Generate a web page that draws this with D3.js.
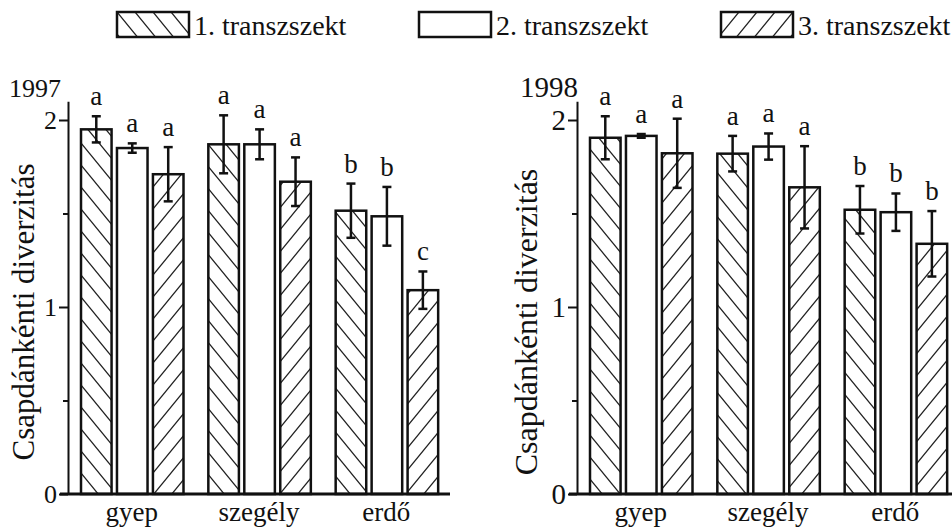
<!DOCTYPE html>
<html>
<head>
<meta charset="utf-8">
<script src="https://cdn.jsdelivr.net/npm/d3@7"></script>
<style>
  body { margin: 0; background: #fff; }
  text { font-family: "Liberation Serif", "Times New Roman", Times, serif; fill: #111; }
</style>
</head>
<body>
<svg id="chart" width="952" height="528"></svg>
<script>
// data
const groups = ["gyep", "szegély", "erdő"];
const series = ["1. transzszekt", "2. transzszekt", "3. transzszekt"];

// means per group, per transect
const mean1997 = [[1.95, 1.85, 1.71], [1.87, 1.87, 1.67], [1.515, 1.485, 1.09]];
const err1997 = [[0.07, 0.025, 0.145], [0.155, 0.08, 0.13], [0.145, 0.157, 0.10]];
const letters1997 = [["a", "a", "a"], ["a", "a", "a"], ["b", "b", "c"]];

const mean1998 = [[1.905, 1.915, 1.822], [1.82, 1.858, 1.64], [1.52, 1.507, 1.338]];
const err1998 = [[0.115, 0.01, 0.185], [0.095, 0.07, 0.22], [0.127, 0.10, 0.175]];
const letters1998 = [["a", "a", "a"], ["a", "a", "a"], ["b", "b", "b"]];

const majorTicks = [0, 1, 2];
const minorTicks = [0.5, 1.5];

const serif = '"Liberation Serif", "Times New Roman", Times, serif';
const svg = d3.select("#chart");

// hatch patterns
const defs = svg.append("defs");
function hatch(id, dir) {
    const w = 18, h = 22;
    const p = defs.append("pattern")
        .attr("id", id)
        .attr("patternUnits", "userSpaceOnUse")
        .attr("width", w).attr("height", h);
    p.append("rect").attr("width", w).attr("height", h).attr("fill", "#fff");
    let d;
    if (dir === "down") {
        d = `M${-w},${-h}L${2 * w},${2 * h}M0,${-h}L${2 * w},${h}M${-w},0L${w},${2 * h}`;
    } else {
        d = `M${-w},${2 * h}L${2 * w},${-h}M${-w},${h}L${w},${-h}M0,${2 * h}L${2 * w},0`;
    }
    p.append("path").attr("d", d).attr("stroke", "#222").attr("stroke-width", 1.3).attr("fill", "none");
}
hatch("hatchDown", "down");
hatch("hatchUp", "up");
const fills = ["url(#hatchDown)", "#fff", "url(#hatchUp)"];

function panel(cfg) {
    const g = svg.append("g");
    const y = d3.scaleLinear().domain([0, 2.1]).range([494, 494 - 2.1 * 187]);
    const x0 = d3.scaleBand().domain(groups).range([cfg.left, cfg.left + 382]);
    const x1 = d3.scaleBand().domain([0, 1, 2]).range([13, 115.5]).paddingInner(0.15);

    const rows = [];
    groups.forEach((grp, gi) => {
        cfg.means[gi].forEach((m, si) => {
            rows.push({ grp, si, m, e: cfg.errs[gi][si], lab: cfg.letters[gi][si] });
        });
    });

    const bx = d => x0(d.grp) + x1(d.si);
    const bw = x1.bandwidth();

    g.selectAll("rect.bar")
        .data(rows)
        .join("rect")
        .attr("class", "bar")
        .attr("x", bx)
        .attr("y", d => y(d.m))
        .attr("width", bw)
        .attr("height", d => y(0) - y(d.m))
        .attr("fill", d => fills[d.si])
        .attr("stroke", "#111")
        .attr("stroke-width", 2.5);

    // error bars
    const eb = g.selectAll("g.err").data(rows).join("g").attr("class", "err")
        .attr("stroke", "#111").attr("stroke-width", 2.5);
    eb.append("line")
        .attr("x1", d => bx(d) + bw / 2).attr("x2", d => bx(d) + bw / 2)
        .attr("y1", d => y(d.m - d.e)).attr("y2", d => y(d.m + d.e));
    eb.append("line")
        .attr("x1", d => bx(d) + bw / 2 - 4.5).attr("x2", d => bx(d) + bw / 2 + 4.5)
        .attr("y1", d => y(d.m + d.e)).attr("y2", d => y(d.m + d.e));
    eb.append("line")
        .attr("x1", d => bx(d) + bw / 2 - 4.5).attr("x2", d => bx(d) + bw / 2 + 4.5)
        .attr("y1", d => y(d.m - d.e)).attr("y2", d => y(d.m - d.e));

    g.selectAll("text.sig")
        .data(rows)
        .join("text")
        .attr("class", "sig")
        .attr("x", d => bx(d) + bw / 2)
        .attr("y", d => y(d.m + d.e) - 11)
        .attr("text-anchor", "middle")
        .attr("font-family", serif)
        .style("font-size", "27px")
        .text(d => d.lab);

    // y axis
    const ya = g.append("g")
        .attr("transform", `translate(${cfg.left},0)`)
        .call(d3.axisLeft(y).tickValues(majorTicks).tickSize(9).tickSizeOuter(0).tickPadding(2).tickFormat(d3.format("d")));
    ya.attr("font-family", serif);
    ya.select(".domain").attr("stroke", "#111").attr("stroke-width", 2);
    ya.selectAll(".tick line").attr("stroke", "#111").attr("stroke-width", 2);
    ya.selectAll(".tick text")
        .attr("fill", "#111")
        .style("font-family", serif)
        .style("font-size", cfg.tickSize + "px")
        .attr("dy", "0.34em");

    const ym = g.append("g")
        .attr("transform", `translate(${cfg.left},0)`)
        .call(d3.axisLeft(y).tickValues(minorTicks).tickSize(5).tickSizeOuter(0).tickFormat(""));
    ym.select(".domain").remove();
    ym.selectAll(".tick line").attr("stroke", "#111").attr("stroke-width", 2);

    // baseline
    g.append("line")
        .attr("x1", cfg.left - 8).attr("x2", cfg.left + 382)
        .attr("y1", y(0)).attr("y2", y(0))
        .attr("stroke", "#111").attr("stroke-width", 3);

    g.selectAll("text.cat")
        .data(groups)
        .join("text")
        .attr("class", "cat")
        .attr("x", d => x0(d) + x0.bandwidth() / 2)
        .attr("y", 521)
        .attr("text-anchor", "middle")
        .attr("font-family", serif)
        .style("font-size", "27px")
        .text(d => d);

    g.append("text")
        .attr("x", cfg.yearX).attr("y", 97)
        .attr("font-family", serif)
        .style("font-size", cfg.yearSize + "px")
        .text(cfg.year);

    g.append("text")
        .attr("transform", `translate(${cfg.labelX},${cfg.labelY}) rotate(-90)`)
        .attr("text-anchor", "middle")
        .attr("font-family", serif)
        .style("font-size", cfg.labelSize + "px")
        .text("Csapdánkénti diverzitás");
}

panel({ left: 68, means: mean1997, errs: err1997, letters: letters1997, year: "1997",
        yearX: 9, yearSize: 26, tickSize: 26, labelX: 34, labelY: 312, labelSize: 31 });
panel({ left: 577, means: mean1998, errs: err1998, letters: letters1998, year: "1998",
        yearX: 520, yearSize: 29, tickSize: 29, labelX: 537, labelY: 322, labelSize: 32 });

// legend
const legendX = [117, 419, 721];
const legend = svg.append("g").selectAll("g").data(series).join("g")
    .attr("transform", (d, i) => `translate(${legendX[i]},12)`);
legend.append("rect")
    .attr("width", 72).attr("height", 25)
    .attr("fill", (d, i) => fills[i])
    .attr("stroke", "#111").attr("stroke-width", 2.5);
legend.append("text")
    .attr("x", 77).attr("y", 23)
    .attr("font-family", serif)
    .style("font-size", "28px")
    .text(d => d);
</script>
</body>
</html>
